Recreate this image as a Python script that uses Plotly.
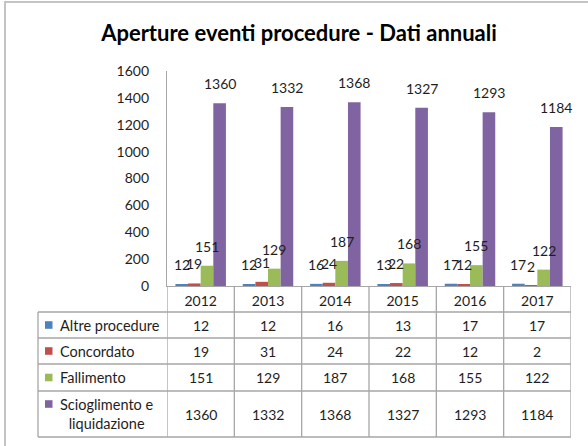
import plotly.graph_objects as go

# ---------------- data ----------------
years = ["2012", "2013", "2014", "2015", "2016", "2017"]
altre_procedure = [12, 12, 16, 13, 17, 17]
concordato = [19, 31, 24, 22, 12, 2]
fallimento = [151, 129, 187, 168, 155, 122]
scioglimento = [1360, 1332, 1368, 1327, 1293, 1184]

series_names = ["Altre procedure", "Concordato", "Fallimento", "Scioglimento e<br>liquidazione"]
series_values = [altre_procedure, concordato, fallimento, scioglimento]
colors = ["#4F81BD", "#C0504D", "#9BBB59", "#8064A2"]

title_text = "Aperture eventi procedure - Dati annuali"
y_ticks = [0, 200, 400, 600, 800, 1000, 1200, 1400, 1600]

# ---------------- layout geometry (pixels) ----------------
W, H = 588, 446
PL, PR, PT, PB = 167, 571, 71, 286  # plot area edges
FONT = "Lato, 'Open Sans', sans-serif"
TXT = "#1e1e1e"
GRID = "#A6A6A6"
BARGAP = 0.25


def xp(px):
    return (px - PL) / (PR - PL)


def yp(py):
    return (PB - py) / (PB - PT)


fig = go.Figure()
for name, vals, col in zip(series_names, series_values, colors):
    fig.add_trace(go.Bar(x=years, y=vals, name=name.replace("<br>", " "),
                         marker=dict(color=col, line=dict(width=0))))

shapes = []
annotations = []

# data labels above bars
n = len(series_values)
bw = (1 - BARGAP) / n
for k, vals in enumerate(series_values):
    off = (k - (n - 1) / 2) * bw
    for i, v in enumerate(vals):
        annotations.append(dict(x=i + off, y=v, xref="x", yref="y", text=str(v),
                                showarrow=False, yanchor="bottom", yshift=9,
                                font=dict(family=FONT, size=14, color=TXT)))

# ---------------- data table ----------------
row_lines = [312, 338, 364, 391, 437]
row_centers = [325, 351, 377.5, 414]
line_style = dict(color=GRID, width=1.3)

# horizontal lines
for ry in row_lines:
    shapes.append(dict(type="line", xref="paper", yref="paper",
                       x0=xp(38), x1=1, y0=yp(ry), y1=yp(ry), line=line_style))
# left border of legend column
shapes.append(dict(type="line", xref="paper", yref="paper",
                   x0=xp(38), x1=xp(38), y0=yp(312), y1=yp(437), line=line_style))
# column dividers at category boundaries
for i in range(len(years) + 1):
    shapes.append(dict(type="line", xref="x", yref="paper",
                       x0=i - 0.5, x1=i - 0.5, y0=yp(PB), y1=yp(437), line=line_style))

# legend keys, labels, values
for k, (name, vals, col) in enumerate(zip(series_names, series_values, colors)):
    cy = row_centers[k]
    key_y = cy if "<br>" not in name else cy - 10
    shapes.append(dict(type="rect", xref="paper", yref="paper",
                       x0=xp(45), x1=xp(52.5), y0=yp(key_y - 3.8), y1=yp(key_y + 3.8),
                       fillcolor=col, line=dict(width=0)))
    annotations.append(dict(x=xp(58), y=yp(cy), xref="paper", yref="paper",
                            text=name, showarrow=False, xanchor="left", yanchor="middle",
                            align="center",
                            font=dict(family=FONT, size=14.5, color=TXT)))
    for i, v in enumerate(vals):
        annotations.append(dict(x=i, y=yp(cy), xref="x", yref="paper", text=str(v),
                                showarrow=False, yanchor="middle",
                                font=dict(family=FONT, size=14, color=TXT)))

# outer chart frame
shapes.append(dict(type="rect", xref="paper", yref="paper",
                   x0=xp(5), x1=xp(620), y0=yp(2), y1=yp(470),
                   line=dict(color="#C4C4C4", width=2), layer="below"))

fig.update_layout(
    width=W, height=H,
    margin=dict(l=PL, r=W - PR, t=PT, b=H - PB, pad=0),
    paper_bgcolor="white", plot_bgcolor="white",
    barmode="group", bargap=BARGAP, bargroupgap=0,
    showlegend=False,
    font=dict(family=FONT, size=14, color=TXT),
    title=dict(text="<b>" + title_text + "</b>", x=299 / W, xanchor="center",
               xref="container", y=1 - 33 / H, yanchor="middle",
               font=dict(family=FONT, size=22, color="#000000")),
    xaxis=dict(type="category", range=[-0.5, len(years) - 0.5], showline=True,
               linecolor=GRID, linewidth=1.3, ticks="", showgrid=False,
               tickfont=dict(family=FONT, size=14, color=TXT), ticklabelstandoff=2),
    yaxis=dict(range=[0, 1600], tickvals=y_ticks, showline=True, linecolor=GRID,
               linewidth=1.3, ticks="", showgrid=False, zeroline=False,
               tickfont=dict(family=FONT, size=14, color=TXT), ticklabelstandoff=14),
    shapes=shapes,
    annotations=annotations,
)

fig.write_html("out.html",
               config={"displayModeBar": False},
               post_script="document.body.style.margin='0';document.body.style.overflow='hidden';")
